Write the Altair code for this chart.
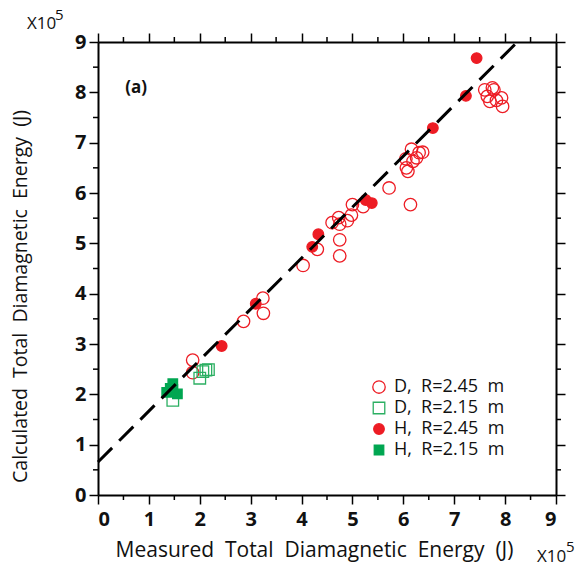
import altair as alt
import pandas as pd

# ---- data ----
D245_x = [1.86, 1.86, 2.86, 3.24, 3.25, 4.03, 4.31, 4.75, 4.75, 4.60, 4.73, 4.75, 4.90, 4.98, 5.00, 5.21,
          5.72, 6.14, 6.06, 6.09, 6.16, 6.31, 6.38, 6.19, 6.05, 6.26, 7.60, 7.75, 7.78, 7.65, 7.70, 7.83,
          7.93, 7.95]
D245_y = [2.68, 2.43, 3.45, 3.91, 3.61, 4.56, 4.88, 4.75, 5.07, 5.41, 5.51, 5.38, 5.45, 5.56, 5.77, 5.73,
          6.10, 5.77, 6.50, 6.43, 6.87, 6.80, 6.81, 6.63, 6.68, 6.70, 8.05, 8.09, 8.05, 7.92, 7.82, 7.84,
          7.89, 7.72]
D215_x = [2.17, 2.12, 2.06, 2.00, 1.47]
D215_y = [2.49, 2.48, 2.45, 2.32, 1.88]
H245_x = [2.43, 3.10, 4.21, 4.33, 5.26, 5.38, 6.58, 7.23, 7.44]
H245_y = [2.96, 3.80, 4.93, 5.18, 5.86, 5.80, 7.29, 7.93, 8.68]
H215_x = [1.47, 1.35, 1.56, 1.47, 1.42]
H215_y = [2.21, 2.04, 2.01, 2.10, 2.12]

FIT_x = [0.0, 8.2]
FIT_y = [0.655, 8.96]

NB = "\u00a0"
SERIES = [f"D,{NB}{NB}R=2.45{NB}{NB}m", f"D,{NB}{NB}R=2.15{NB}{NB}m",
          f"H,{NB}{NB}R=2.45{NB}{NB}m", f"H,{NB}{NB}R=2.15{NB}{NB}m"]
SHAPES = ["circle", "square", "circle", "square"]
STROKES = ["#ED1C24", "#2BAF62", "#ED1C24", "#00A651"]
FILLS = ["transparent", "transparent", "#ED1C24", "#00A651"]
SIZES = [155, 90, 195, 110]

MAJOR = list(range(10))
MINOR = [i + 0.5 for i in range(9)]

rows = []
for name, xs_, ys_ in zip(SERIES, [D245_x, D215_x, H245_x, H215_x], [D245_y, D215_y, H245_y, H215_y]):
    for a, b in zip(xs_, ys_):
        rows.append({"series": name, "x": a, "y": b})
df = pd.DataFrame(rows)
fit_df = pd.DataFrame({"x": FIT_x, "y": FIT_y})
minor_df = pd.DataFrame({"v": MINOR})

W, H = 458, 453
FONT = "Open Sans"
TXT = "#111111"
xs = alt.Scale(domain=[0, 9], nice=False, zero=False)
ys = alt.Scale(domain=[0, 9], nice=False, zero=False)

common = dict(values=MAJOR, tickSize=9, tickColor="black", tickWidth=1.5,
              domainColor="black", domainWidth=2, grid=False,
              labelFont=FONT, labelFontSize=20, labelFontWeight="bold", labelColor=TXT,
              titleFont=FONT, titleFontWeight="normal", titleColor=TXT)

leg = alt.Legend(title=None, orient="none", legendX=272, legendY=336, padding=0,
                 labelFont=FONT, labelFontSize=18, labelFontWeight="normal", labelColor=TXT,
                 labelOffset=6, symbolStrokeWidth=1.3, rowPadding=3)

SP = NB + " "
xtitle = f"Measured{SP}Total{SP}Diamagnetic{SP}Energy{SP}(J)"
ytitle = f"Calculated{SP}Total{SP}Diamagnetic{SP}Energy{SP}(J)"

points = alt.Chart(df).mark_point(opacity=1, strokeWidth=1.3).encode(
    x=alt.X("x:Q", scale=xs, axis=alt.Axis(orient="bottom", title=xtitle, labelPadding=5,
                                           titleFontSize=21,
                                           titleX=216, titleY=55, titleBaseline="middle",
                                           titleAlign="center", **common)),
    y=alt.Y("y:Q", scale=ys, axis=alt.Axis(orient="left", title=ytitle, labelPadding=3,
                                           titleFontSize=19.5,
                                           titleX=-78, titleY=254, titleBaseline="middle",
                                           titleAlign="center", titleAngle=270, **common)),
    shape=alt.Shape("series:N", scale=alt.Scale(domain=SERIES, range=SHAPES), legend=leg),
    stroke=alt.Stroke("series:N", scale=alt.Scale(domain=SERIES, range=STROKES), legend=leg),
    fill=alt.Fill("series:N", scale=alt.Scale(domain=SERIES, range=FILLS), legend=leg),
    size=alt.Size("series:N", scale=alt.Scale(domain=SERIES, range=SIZES), legend=leg),
)

frame = dict(values=MAJOR, tickSize=9, tickColor="black", tickWidth=1.5,
             domainColor="black", domainWidth=2, grid=False, labels=False, title=None)

fit = alt.Chart(fit_df).mark_line(color="black", strokeWidth=3, strokeDash=[20, 10]).encode(
    x=alt.X("x:Q", scale=xs, axis=alt.Axis(orient="top", **frame)),
    y=alt.Y("y:Q", scale=ys, axis=alt.Axis(orient="right", **frame)),
)

rule_style = dict(color="black", strokeWidth=1.5)
m_bottom = alt.Chart(minor_df).mark_rule(**rule_style).encode(
    x=alt.X("v:Q", scale=xs, axis=None), y=alt.value(H), y2=alt.value(H + 5))
m_top = alt.Chart(minor_df).mark_rule(**rule_style).encode(
    x=alt.X("v:Q", scale=xs, axis=None), y=alt.value(0), y2=alt.value(-5))
m_left = alt.Chart(minor_df).mark_rule(**rule_style).encode(
    y=alt.Y("v:Q", scale=ys, axis=None), x=alt.value(0), x2=alt.value(-5))
m_right = alt.Chart(minor_df).mark_rule(**rule_style).encode(
    y=alt.Y("v:Q", scale=ys, axis=None), x=alt.value(W), x2=alt.value(W + 5))

label_a = alt.Chart(pd.DataFrame({"x": [0.75], "y": [8.09], "t": ["(a)"]})).mark_text(
    font=FONT, fontSize=17, fontWeight="bold", color=TXT).encode(
    x=alt.X("x:Q", scale=xs, axis=None), y=alt.Y("y:Q", scale=ys, axis=None), text="t:N")

def txt(t, x, y, size):
    return alt.Chart(pd.DataFrame({"t": [t]})).mark_text(
        font=FONT, fontSize=size, color=TXT, align="left",
        baseline="alphabetic").encode(x=alt.value(x), y=alt.value(y), text="t:N")

mult = [txt("X10", 27 - 98, 29 - 42, 17), txt("5", 55 - 98, 20 - 42, 15),
        txt("X10", 537 - 98, 562 - 42, 17), txt("5", 566 - 98, 552 - 42, 15)]

chart = alt.layer(points, fit, m_bottom, m_top, m_left, m_right, label_a, *mult).resolve_axis(
    x="independent", y="independent"
).properties(
    width=W, height=H,
    padding={"left": 98, "top": 42, "right": 579 - 98 - W, "bottom": 575 - 42 - H},
    autosize=alt.AutoSizeParams(type="none"),
).configure_view(stroke=None).configure(background="white")

chart.save("out.html", embed_options={"renderer": "svg", "actions": False})
